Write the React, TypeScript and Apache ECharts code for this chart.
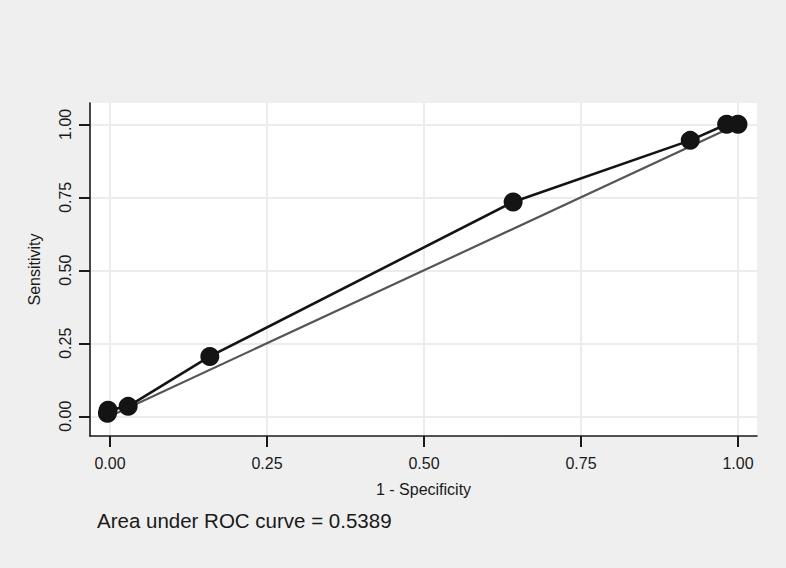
import React, { useEffect, useRef } from "react";
import * as echarts from "echarts";

const rocX = [-0.004, -0.003, 0.029, 0.159, 0.642, 0.924, 0.982, 1.0];
const rocY = [0.01, 0.021, 0.034, 0.205, 0.734, 0.945, 1.0, 1.0];
const refX = [0, 1];
const refY = [0, 1];
const tickValues = [0, 0.25, 0.5, 0.75, 1];
const xTitle = "1 - Specificity";
const yTitle = "Sensitivity";
const note = "Area under ROC curve = 0.5389";

export default function App() {
  const ref = useRef<HTMLDivElement>(null);
  useEffect(() => {
    if (!ref.current) return;
    const chart = echarts.init(ref.current, undefined, { renderer: "svg" });
    const font = "'Liberation Sans', Arial, Helvetica, sans-serif";
    const axisCommon = {
      type: "value" as const,
      axisLine: { show: true, onZero: false, lineStyle: { color: "#1a1a1a", width: 1.6 } },
      axisTick: {
        show: true,
        length: 11,
        customValues: tickValues,
        lineStyle: { color: "#1a1a1a", width: 2 },
      },
      splitLine: { show: true, lineStyle: { color: "#ececec", width: 2 } },
      nameLocation: "middle" as const,
      nameTextStyle: { fontFamily: font, fontSize: 16, color: "#1a1a1a" },
    };
    chart.setOption({
      animation: false,
      backgroundColor: "#efefef",
      textStyle: { fontFamily: font },
      grid: {
        left: 90,
        top: 103,
        width: 667,
        height: 333,
        show: true,
        backgroundColor: "#ffffff",
        borderWidth: 0,
      },
      xAxis: {
        ...axisCommon,
        min: -0.0318,
        max: 1.0303,
        name: xTitle,
        nameGap: 45,
        axisLabel: {
          customValues: tickValues,
          margin: 19,
          fontSize: 16,
          color: "#1a1a1a",
          fontFamily: font,
          formatter: (v: number) => v.toFixed(2),
        },
      },
      yAxis: {
        ...axisCommon,
        min: -0.0675,
        max: 1.073,
        name: yTitle,
        nameGap: 48,
        axisLabel: {
          customValues: tickValues,
          rotate: 90,
          margin: 17,
          fontSize: 16,
          color: "#1a1a1a",
          fontFamily: font,
          formatter: (v: number) => v.toFixed(2),
        },
      },
      graphic: [
        {
          type: "text",
          left: 97,
          top: 510,
          style: { text: note, fontSize: 20.5, fill: "#1a1a1a", fontFamily: font },
        },
      ],
      series: [
        {
          type: "line",
          data: refX.map((x, i) => [x, refY[i]]),
          symbol: "none",
          lineStyle: { color: "#555555", width: 2.2 },
          z: 2,
        },
        {
          type: "line",
          data: rocX.map((x, i) => [x, rocY[i]]),
          symbol: "circle",
          symbolSize: 19,
          itemStyle: { color: "#141414" },
          lineStyle: { color: "#141414", width: 2.6 },
          z: 3,
        },
      ],
    });
    return () => chart.dispose();
  }, []);
  return <div ref={ref} style={{ position: "fixed", left: 0, top: 0, width: 786, height: 568 }} />;
}
